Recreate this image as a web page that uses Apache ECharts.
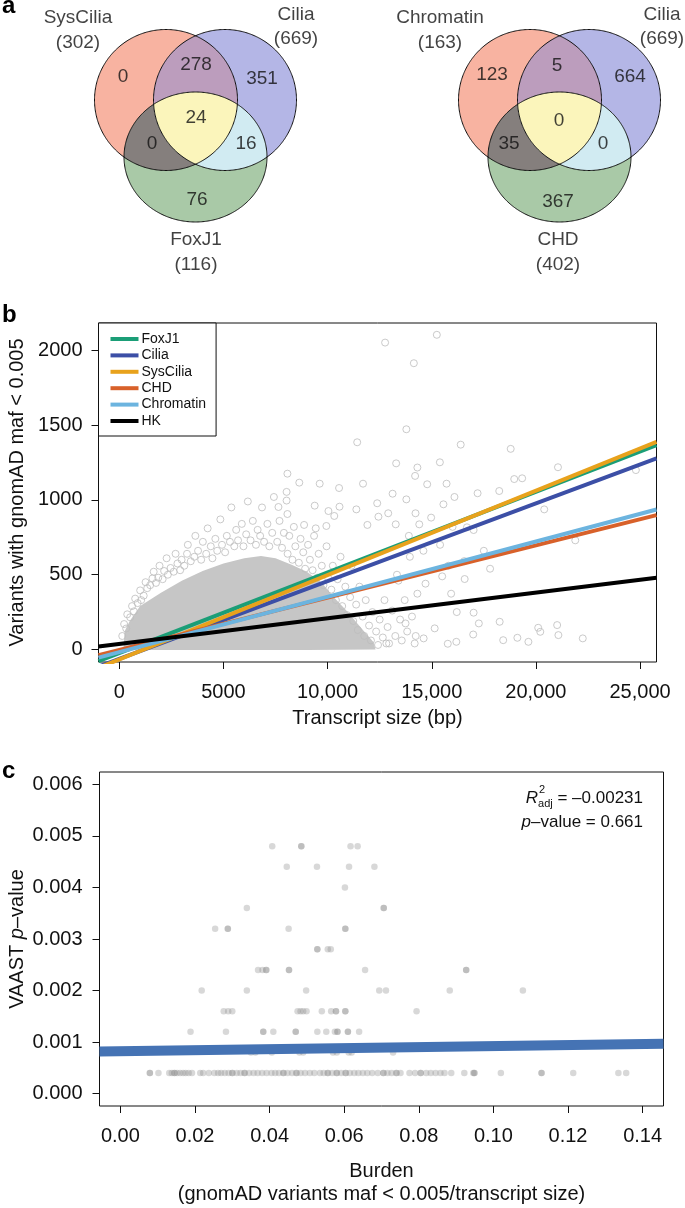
<!DOCTYPE html>
<html><head><meta charset="utf-8">
<script src="https://cdn.jsdelivr.net/npm/echarts@6/dist/echarts.min.js"></script>
<style>html,body{margin:0;padding:0;background:#fff}#c{width:685px;height:1208px}</style>
</head><body><div id="c"></div>
<script>
// ================= DATA =================
// Panel a – Venn diagrams. Region order: [A only, A∩B, B only, A∩B∩C, A∩C, B∩C, C only]
const vennSets1 = ['SysCilia', 'Cilia', 'FoxJ1'];
const vennSizes1 = [302, 669, 116];
const vennCounts1 = [0, 278, 351, 24, 0, 16, 76];
const vennSets2 = ['Chromatin', 'Cilia', 'CHD'];
const vennSizes2 = [163, 669, 402];
const vennCounts2 = [123, 5, 664, 0, 35, 0, 367];

// Panel b – fitted lines (values read at the two ends of the plotted x range)
const fitNames = ['FoxJ1', 'Cilia', 'SysCilia', 'CHD', 'Chromatin', 'HK'];
const fitX = [-1000, 25790];
const fitFoxJ1 = [-78, 1367];
const fitCilia = [-115, 1278];
const fitSysCilia = [-123, 1389];
const fitCHD = [-38, 899];
const fitChromatin = [-55, 936];
const fitHK = [19, 479];
const xTicksB = [0, 5000, 10000, 15000, 20000, 25000];
const xTickLabelsB = ['0', '5000', '10,000', '15,000', '20,000', '25,000'];
const yTicksB = [0, 500, 1000, 1500, 2000];
const yTickLabelsB = ['0', '500', '1000', '1500', '2000'];

// Panel b – outline of the saturated (solid grey) part of the gene cloud, in data units
const denseCoreOutline = [[200,0],[250,120],[500,190],[1000,290],[2000,380],[3000,460],[4000,525],[5000,575],[6000,610],
  [6800,625],[7500,610],[8300,565],[9000,520],[9700,450],[10300,350],[11000,245],[11600,145],[12200,50],[12300,0],
  [9000,-3],[5000,-3],[1000,-3]];
// Panel b – individually visible genes around the dense core (transcript size, variant count)
const cloudFringeLeft = [[140,90],[230,170],[330,140],[380,235],[520,215],[610,290],[700,255],[760,340],[880,310],[1000,395],
  [1050,330],[1170,360],[1260,450],[1340,410],[1480,430],[1590,475],[1650,520],[1760,445],[1870,480],[1930,560],[2080,470],
  [2150,525],[2270,610],[2330,500],[2460,545],[2610,520],[2700,640],[2790,575],[2920,530],[2990,600]];
const cloudFringeMid = [[3120,560],[3250,640],[3290,700],[3430,590],[3600,620],[3650,760],[3780,660],[3930,600],[4010,720],
  [4170,640],[4240,810],[4390,690],[4470,610],[4610,740],[4700,660],[4850,870],[4930,700],[5080,650],[5160,760],[5310,720],
  [5380,950],[5520,690],[5610,800],[5700,730],[5880,840],[5960,690],[6090,770],[6170,990],[6300,730],[6410,860],[6560,700],
  [6640,800],[6760,760],[6850,950],[6950,720],[7110,840],[7200,690],[7340,780],[7420,1020],[7580,720],[7690,860],[7810,680],[7900,780]];
const cloudFringeRight = [[8080,640],[8160,760],[8310,600],[8380,820],[8450,690],[8620,580],[8700,740],[8830,650],[8920,540],
  [9060,700],[9150,600],[9280,530],[9350,760],[9500,480],[9570,640],[9720,560],[9800,430],[9950,690],[10020,480],[10180,400],
  [10250,560],[10400,330],[10480,470],[10620,620],[10700,290],[10850,420],[10930,230],[11080,350],[11150,560],[11230,190],
  [11370,300],[11450,130],[11530,420],[11680,220],[11760,90],[11830,330],[11990,160],[12080,60],[12150,250],[12330,120],
  [12420,30],[12500,200],[12650,80],[12730,330],[12880,150],[12950,40],[13100,260],[13250,90],[13330,500],[13480,200],
  [13560,60],[13700,330],[13820,120],[13950,620],[14050,220],[14230,90]];
const cloudOutliers = [[7640,953],[8030,996],[8030,1054],[8070,1176],[8070,906],[8640,1116],[8870,833],[9380,962],[9430,810],
  [9620,1109],[9940,826],[10040,926],[10320,893],[10550,1080],[10570,955],[11380,937],[11420,1386],[11700,1109],[11910,833],
  [12380,978],[12440,888],[12760,2053],[12820,40],[12910,911],[13120,1042],[13270,837],[13290,1245],[13740,174],[13780,1473],
  [13780,1004],[14140,1915],[14180,40],[14200,1161],[14220,911],[14310,1217],[14310,373],[14400,837],[14610,74],[14780,1105],
  [14970,882],[15140,141],[15244,2105],[15390,1252],[15500,489],[15560,971],[15710,1109],[15770,38],[15930,373],[16090,1020],
  [16180,51],[16390,1370],[16560,591],[16580,471],[16690,817],[16990,100],[17010,799],[17010,246],[17200,1045],[17260,174],
  [18240,1060],[18260,185],[18430,62],[18790,1342],[18960,1140],[19110,78],[19340,1145],[19640,51],[20110,145],[20210,118],
  [20400,937],[21020,163],[21060,1219],[21080,96],[21890,730],[22250,74],[24800,1200],[14600,660],[15400,700],[15800,560],
  [16000,820],[14700,440],[13900,760],[13400,460],[16200,250],[17500,660],[17800,540]];

// Panel c – VAAST p-value vs burden
const vaastPoints = [
  [0.0407,0.0048],[0.0485,0.0048],[0.0485,0.0048],[0.0617,0.0048],[0.0636,0.0048],
  [0.0446,0.0044],[0.0527,0.0044],[0.0613,0.0044],[0.0681,0.0044],
  [0.0602,0.0040],
  [0.0339,0.0036],[0.0706,0.0036],[0.0706,0.0036],
  [0.0254,0.0032],[0.0288,0.0032],[0.0288,0.0032],[0.0451,0.0032],[0.0603,0.0032],[0.0603,0.0032],
  [0.0528,0.0028],[0.0528,0.0028],[0.0556,0.0028],[0.0564,0.0028],
  [0.0369,0.0024],[0.0381,0.0024],[0.0391,0.0024],[0.0391,0.0024],[0.0452,0.0024],[0.0452,0.0024],[0.0656,0.0024],[0.0927,0.0024],[0.0927,0.0024],
  [0.0218,0.0020],[0.0339,0.0020],[0.0498,0.0020],[0.0694,0.0020],[0.0712,0.0020],[0.0883,0.0020],[0.1079,0.0020],
  [0.0277,0.0016],[0.0289,0.0016],[0.0300,0.0016],[0.0475,0.0016],[0.0483,0.0016],[0.0490,0.0016],[0.0499,0.0016],[0.0540,0.0016],
  [0.0565,0.0016],[0.0578,0.0016],[0.0578,0.0016],[0.0603,0.0016],[0.0603,0.0016],[0.0794,0.0016],
  [0.0188,0.0012],[0.0283,0.0012],[0.0383,0.0012],[0.0383,0.0012],[0.0410,0.0012],[0.0470,0.0012],[0.0470,0.0012],[0.0528,0.0012],
  [0.0552,0.0012],[0.0575,0.0012],[0.0582,0.0012],[0.0582,0.0012],[0.0610,0.0012],[0.0610,0.0012],[0.0640,0.0012],
  [0.0350,0.0008],[0.0362,0.0008],[0.0406,0.0008],[0.0480,0.0008],[0.0490,0.0008],[0.0570,0.0008],[0.0580,0.0008],[0.0612,0.0008],[0.0620,0.0008],[0.0731,0.0008],
  [0.0079,0.0004],[0.0079,0.0004],[0.0102,0.0004],[0.0131,0.0004],[0.0138,0.0004],[0.0145,0.0004],[0.0145,0.0004],[0.0152,0.0004],[0.0160,0.0004],
  [0.0168,0.0004],[0.0175,0.0004],[0.0183,0.0004],[0.0192,0.0004],[0.0214,0.0004],[0.0222,0.0004],[0.0237,0.0004],[0.0252,0.0004],
  [0.0262,0.0004],[0.0270,0.0004],[0.0280,0.0004],[0.0290,0.0004],[0.0300,0.0004],[0.0300,0.0004],[0.0312,0.0004],[0.0322,0.0004],
  [0.0333,0.0004],[0.0333,0.0004],[0.0345,0.0004],[0.0357,0.0004],[0.0368,0.0004],[0.0380,0.0004],[0.0392,0.0004],[0.0405,0.0004],
  [0.0415,0.0004],[0.0425,0.0004],[0.0437,0.0004],[0.0437,0.0004],[0.0448,0.0004],[0.0460,0.0004],[0.0472,0.0004],[0.0472,0.0004],
  [0.0483,0.0004],[0.0495,0.0004],[0.0508,0.0004],[0.0520,0.0004],[0.0535,0.0004],[0.0545,0.0004],[0.0556,0.0004],[0.0556,0.0004],
  [0.0568,0.0004],[0.0580,0.0004],[0.0580,0.0004],[0.0592,0.0004],[0.0604,0.0004],[0.0604,0.0004],[0.0615,0.0004],[0.0627,0.0004],
  [0.0638,0.0004],[0.0650,0.0004],[0.0662,0.0004],[0.0675,0.0004],[0.0690,0.0004],[0.0705,0.0004],[0.0705,0.0004],[0.0716,0.0004],
  [0.0727,0.0004],[0.0740,0.0004],[0.0740,0.0004],[0.0751,0.0004],[0.0775,0.0004],[0.0790,0.0004],[0.0805,0.0004],[0.0805,0.0004],
  [0.0820,0.0004],[0.0832,0.0004],[0.0845,0.0004],[0.0858,0.0004],[0.0869,0.0004],[0.0887,0.0004],[0.0922,0.0004],[0.0946,0.0004],
  [0.0949,0.0004],[0.0949,0.0004],[0.1020,0.0004],[0.1129,0.0004],[0.1129,0.0004],[0.1214,0.0004],[0.1335,0.0004],[0.1356,0.0004]];
const fitBurdenX = [-0.0056, 0.1456];
const fitBurdenY = [0.000817, 0.000968];
const xTicksC = [0, 0.02, 0.04, 0.06, 0.08, 0.10, 0.12, 0.14];
const xTickLabelsC = ['0.00', '0.02', '0.04', '0.06', '0.08', '0.10', '0.12', '0.14'];
const yTicksC = [0, 0.001, 0.002, 0.003, 0.004, 0.005, 0.006];
const yTickLabelsC = ['0.000', '0.001', '0.002', '0.003', '0.004', '0.005', '0.006'];

// ================= LAYOUT / STYLE =================
const FONT = "'Liberation Sans', Arial, Helvetica, sans-serif";
const INK = '#111111';
const fitColors = ['#1b9e77', '#3c4fa6', '#e8a21c', '#d8612a', '#6cb4df', '#000000'];
const vennColors = { A: '#f8b3a1', B: '#b4b6e6', C: '#a9c9a7', AB: '#bc9dbd', AC: '#857f7d', BC: '#d1ebf2', ABC: '#fbf5bb' };
const vennBase = [
  { cx: 166, cy: 100, rx: 71.5, ry: 70.5 },
  { cx: 225, cy: 100, rx: 71.5, ry: 70.5 },
  { cx: 195.5, cy: 157, rx: 71.5, ry: 65 }
];
const vennShift = [0, 364];
const vennCountPos = [
  [[123,77],[196,65],[262,79],[196,118],[152,144],[246,144],[197,200]],
  [[492,75],[557,66],[630,77],[559,121],[509,144],[603,144],[558,202]]
];
const vennSetPos = [
  [[78,18,43],[296,15,39],[196,240,265]],
  [[440,18,43],[662,15,39],[558,240,265]]
];

// ---------- geometry helpers for the Venn regions ----------
function ellPts(e, n) {
  const p = [];
  for (let i = 0; i < n; i++) { const t = 2 * Math.PI * i / n; p.push([e.cx + e.rx * Math.cos(t), e.cy + e.ry * Math.sin(t)]); }
  return p;
}
function inEll(e, p) { const dx = (p[0] - e.cx) / e.rx, dy = (p[1] - e.cy) / e.ry; return dx * dx + dy * dy <= 1 + 1e-9; }
function interPoly(es) {
  const pts = [];
  es.forEach((e, i) => ellPts(e, 720).forEach(p => { if (es.every((o, j) => j === i || inEll(o, p))) pts.push(p); }));
  const c = pts.reduce((a, p) => [a[0] + p[0] / pts.length, a[1] + p[1] / pts.length], [0, 0]);
  pts.sort((a, b) => Math.atan2(a[1] - c[1], a[0] - c[0]) - Math.atan2(b[1] - c[1], b[0] - c[0]));
  return pts;
}
function vennRender(params, api) {
  const k = api.value(0);
  const E = vennBase.map(e => ({ cx: e.cx + vennShift[k], cy: e.cy, rx: e.rx, ry: e.ry }));
  const toPx = pts => pts.map(p => api.coord(p));
  const fill = (pts, color) => ({ type: 'polygon', shape: { points: toPx(pts) }, style: { fill: color } });
  const ch = [
    fill(ellPts(E[0], 360), vennColors.A), fill(ellPts(E[1], 360), vennColors.B), fill(ellPts(E[2], 360), vennColors.C),
    fill(interPoly([E[0], E[1]]), vennColors.AB), fill(interPoly([E[0], E[2]]), vennColors.AC),
    fill(interPoly([E[1], E[2]]), vennColors.BC), fill(interPoly([E[0], E[1], E[2]]), vennColors.ABC)
  ];
  E.forEach(e => ch.push({ type: 'polygon', shape: { points: toPx(ellPts(e, 360)) }, style: { fill: 'none', stroke: INK, lineWidth: 1 } }));
  return { type: 'group', children: ch };
}

// Venn texts from the data arrays
const vennTextData = [];
[[vennSets1, vennSizes1, vennCounts1], [vennSets2, vennSizes2, vennCounts2]].forEach((v, k) => {
  v[2].forEach((n, i) => vennTextData.push([vennCountPos[k][i][0], vennCountPos[k][i][1], String(n)]));
  v[0].forEach((name, i) => {
    vennTextData.push([vennSetPos[k][i][0], vennSetPos[k][i][1], name]);
    vennTextData.push([vennSetPos[k][i][0], vennSetPos[k][i][2], '(' + v[1][i] + ')']);
  });
});

function tickFmt(ticks, labels) {
  return v => { const i = ticks.findIndex(t => Math.abs(t - v) < 1e-9 * Math.max(1, Math.abs(t)) + 1e-12); return i >= 0 ? labels[i] : ''; };
}
const axisLabelStyle = { fontSize: 20, color: INK, fontFamily: FONT };
function valueAxis(grid, min, max, ticks, labels, margin) {
  return {
    gridIndex: grid, type: 'value', min: min, max: max, scale: true,
    axisLine: { show: false, onZero: false }, splitLine: { show: false },
    axisTick: { show: true, inside: false, length: 7, lineStyle: { color: INK, width: 1 }, customValues: ticks },
    axisLabel: Object.assign({ customValues: ticks, formatter: tickFmt(ticks, labels), margin: margin }, axisLabelStyle)
  };
}

const fitSeriesData = [fitFoxJ1, fitCilia, fitSysCilia, fitCHD, fitChromatin, fitHK];
const cloudPoints = cloudFringeLeft.concat(cloudFringeMid, cloudFringeRight, cloudOutliers);

// text measuring for the annotation in panel c
const mctx = document.createElement('canvas').getContext('2d');
function tw(s, size, style) { mctx.font = (style ? style + ' ' : '') + size + 'px ' + FONT; return mctx.measureText(s).width; }
const annRight = 643, ann1Y = 798, ann2Y = 822, annFs = 17, annSmall = 11;
const annRest = ' = \u20130.00231';
const wR = tw('R', annFs, 'italic'), wAdj = tw('adj', annSmall), wRest = tw(annRest, annFs);
const annX0 = annRight - wR - wAdj - wRest;

const chart = echarts.init(document.getElementById('c'), null, { renderer: 'canvas', width: 685, height: 1208 });
const option = {
  animation: false,
  backgroundColor: '#ffffff',
  textStyle: { fontFamily: FONT },
  grid: [
    { left: 0, top: 0, width: 685, height: 300, show: false },
    { left: 98.5, top: 323, width: 558, height: 339, show: true, borderColor: INK, borderWidth: 1, backgroundColor: 'transparent' },
    { left: 99.5, top: 772, width: 564, height: 334, show: true, borderColor: INK, borderWidth: 1, backgroundColor: 'transparent' }
  ],
  xAxis: [
    { gridIndex: 0, type: 'value', min: 0, max: 685, show: false },
    valueAxis(1, -1000, 25790, xTicksB, xTickLabelsB, 20),
    valueAxis(2, -0.0056, 0.1456, xTicksC, xTickLabelsC, 20)
  ],
  yAxis: [
    { gridIndex: 0, type: 'value', min: 0, max: 300, inverse: true, show: false },
    valueAxis(1, -84, 2184, yTicksB, yTickLabelsB, 16),
    valueAxis(2, -0.00024, 0.00624, yTicksC, yTickLabelsC, 17)
  ],
  legend: {
    data: fitNames, orient: 'vertical', left: 98.5, top: 323, icon: 'rect', itemWidth: 28, itemHeight: 4, itemGap: 2.4,
    padding: [9, 10, 8, 12], borderColor: INK, borderWidth: 1, backgroundColor: '#fff', selectedMode: false,
    textStyle: { fontSize: 14, lineHeight: 14, color: INK, fontFamily: FONT, padding: [0, 0, 0, -2] }
  },
  series: [
    { type: 'custom', xAxisIndex: 0, yAxisIndex: 0, data: [[0, 0], [1, 0]], renderItem: vennRender, silent: true, z: 1 },
    {
      type: 'scatter', xAxisIndex: 0, yAxisIndex: 0, data: vennTextData, symbolSize: 0, silent: true, z: 5,
      label: { show: true, position: 'inside', formatter: p => p.value[2], fontSize: 19, color: INK, fontFamily: FONT }
    },
    {
      type: 'custom', xAxisIndex: 1, yAxisIndex: 1, data: [[0, 0]], silent: true, z: 1, clip: true,
      renderItem: (params, api) => ({ type: 'polygon', shape: { points: denseCoreOutline.map(p => api.coord(p)) }, style: { fill: '#c6c6c6' } })
    },
    {
      type: 'scatter', xAxisIndex: 1, yAxisIndex: 1, data: cloudPoints, symbol: 'circle', symbolSize: 7, silent: true, z: 2,
      itemStyle: { color: 'rgba(0,0,0,0)', borderColor: '#bdbdbd', borderWidth: 1 }
    },
    ...fitNames.map((n, i) => ({
      name: n, type: 'line', xAxisIndex: 1, yAxisIndex: 1, data: fitX.map((x, j) => [x, fitSeriesData[i][j]]),
      symbol: 'none', color: fitColors[i], lineStyle: { width: 4, color: fitColors[i] }, silent: true, z: 3 + i * 0.01, clip: true
    })),
    {
      type: 'scatter', xAxisIndex: 2, yAxisIndex: 2, data: vaastPoints, symbol: 'circle', symbolSize: 6.5, silent: true, z: 2,
      itemStyle: { color: 'rgba(140,140,140,0.42)' }
    },
    {
      type: 'line', xAxisIndex: 2, yAxisIndex: 2, data: fitBurdenX.map((x, j) => [x, fitBurdenY[j]]), symbol: 'none',
      lineStyle: { width: 10, color: '#4573b4' }, silent: true, z: 3, clip: true
    }
  ],
  graphic: [
    { type: 'text', left: 2, top: -6, style: { text: 'a', fontSize: 24, fontWeight: 'bold', fill: '#000', fontFamily: FONT } },
    { type: 'text', left: 2, top: 303, style: { text: 'b', fontSize: 24, fontWeight: 'bold', fill: '#000', fontFamily: FONT } },
    { type: 'text', left: 2, top: 759, style: { text: 'c', fontSize: 24, fontWeight: 'bold', fill: '#000', fontFamily: FONT } },
    { type: 'text', x: 17, y: 492.5, rotation: Math.PI / 2,
      style: { text: 'Variants with gnomAD maf < 0.005', fontSize: 20, fill: INK, fontFamily: FONT, align: 'center', verticalAlign: 'middle' } },
    { type: 'text', x: 377.5, y: 718,
      style: { text: 'Transcript size (bp)', fontSize: 20, fill: INK, fontFamily: FONT, align: 'center', verticalAlign: 'middle' } },
    { type: 'text', x: 17, y: 939, rotation: Math.PI / 2,
      style: { text: 'VAAST {i|p}\u2013value', fontSize: 20, fill: INK, fontFamily: FONT, align: 'center', verticalAlign: 'middle',
        rich: { i: { fontStyle: 'italic', fontSize: 20, fontFamily: FONT, fill: INK } } } },
    { type: 'text', x: 381.5, y: 1171,
      style: { text: 'Burden', fontSize: 20, fill: INK, fontFamily: FONT, align: 'center', verticalAlign: 'middle' } },
    { type: 'text', x: 381.5, y: 1194,
      style: { text: '(gnomAD variants maf < 0.005/transcript size)', fontSize: 20, fill: INK, fontFamily: FONT, align: 'center', verticalAlign: 'middle' } },
    { type: 'text', x: annX0, y: ann1Y,
      style: { text: 'R', fontSize: annFs, fontStyle: 'italic', fill: INK, fontFamily: FONT, align: 'left', verticalAlign: 'middle' } },
    { type: 'text', x: annX0 + wR, y: ann1Y + 6,
      style: { text: 'adj', fontSize: annSmall, fill: INK, fontFamily: FONT, align: 'left', verticalAlign: 'middle' } },
    { type: 'text', x: annX0 + wR + 1, y: ann1Y - 8,
      style: { text: '2', fontSize: annSmall, fill: INK, fontFamily: FONT, align: 'left', verticalAlign: 'middle' } },
    { type: 'text', x: annRight, y: ann1Y,
      style: { text: annRest, fontSize: annFs, fill: INK, fontFamily: FONT, align: 'right', verticalAlign: 'middle' } },
    { type: 'text', x: annRight, y: ann2Y,
      style: { text: '{i|p}\u2013value = 0.661', fontSize: annFs, fill: INK, fontFamily: FONT, align: 'right', verticalAlign: 'middle',
        rich: { i: { fontStyle: 'italic', fontSize: annFs, fontFamily: FONT, fill: INK } } } }
  ]
};
chart.setOption(option);
</script>
</body></html>
